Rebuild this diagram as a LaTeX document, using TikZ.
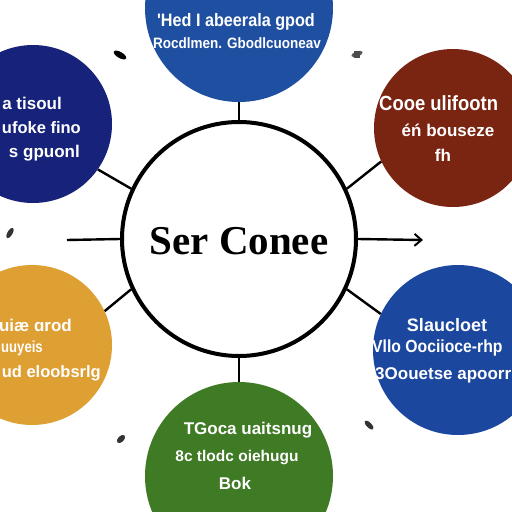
\documentclass[tikz,border=0pt]{standalone}
\usepackage{fontspec}
\setmainfont{Liberation Sans}
\newfontfamily\condf[FakeStretch=0.82]{Liberation Sans}
\newfontfamily\semif[FakeStretch=0.9]{Liberation Sans}
\newfontfamily\serifb{Liberation Serif}
\usetikzlibrary{arrows.meta}
\definecolor{topblue}{HTML}{1E4FA0}
\definecolor{navy}{HTML}{17237A}
\definecolor{brown}{HTML}{7A2412}
\definecolor{orange}{HTML}{DE9F33}
\definecolor{rblue}{HTML}{1C479E}
\definecolor{green}{HTML}{3F7A24}
\tikzset{
  bubble/.style={circle, inner sep=0pt, draw=none},
  lbl/.style={text=white, inner sep=0pt, font=\bfseries\fontsize{17}{19}\selectfont},
  link/.style={line width=2.4pt, black},
}
\begin{document}
\begin{tikzpicture}[x=1pt,y=-1pt]
\useasboundingbox (0,0) rectangle (512,512);
\clip (0,0) rectangle (512,512);
\fill[white] (0,0) rectangle (512,512);
% outer circles
\node[bubble, fill=topblue, minimum size=188pt] (top) at (239,8) {};
\node[bubble, fill=navy, minimum size=158pt] (nw) at (33,124) {};
\node[bubble, fill=brown, minimum size=158pt] (ne) at (453,128) {};
\node[bubble, fill=orange, minimum size=160pt] (sw) at (32,345) {};
\node[bubble, fill=rblue, minimum size=170pt] (se) at (458,350) {};
\node[bubble, fill=green, minimum size=188pt] (bot) at (239,476) {};
% center
\node[circle, draw, line width=4pt, fill=white, minimum size=234pt, inner sep=0pt] (c) at (239,239) {};
\node[inner sep=0pt, font=\serifb\bfseries\fontsize{41}{44}\selectfont] (ctext) at (239,241) {Ser Conee};
% connectors
\draw[link] (top.south) -- (c.north);
\draw[link] (bot.north) -- (c.south);
\draw[link] (nw.-35) -- (c.155);
\draw[link] (ne.205) -- (c.25);
\draw[link] (sw.25) -- (c.205);
\draw[link] (se.155) -- (c.-25);
\coordinate (lend) at (67,240);
\coordinate (rend) at (423,240);
\draw[link] (lend) -- (c.west);
\draw[link, -{Straight Barb[length=7pt,width=12pt,line width=2pt]}] (c.east) -- (rend);
% texts
\node[lbl, font=\semif\bfseries\fontsize{18}{20}\selectfont] (t1) at (236,22) {'Hed I abeerala gpod};
\node[lbl, font=\semif\bfseries\fontsize{15}{18}\selectfont] (t2) at (237,43) {Rocdlmen. Gbodlcuoneav};
\node[lbl, anchor=east] (n1) at (62,103) {a tisoul};
\node[lbl, anchor=east, font=\bfseries\fontsize{16.5}{19}\selectfont] (n2) at (81,128) {ufoke fino};
\node[lbl, anchor=east] (n3) at (80,153) {s gpuonl};
\node[lbl, anchor=west, font=\semif\bfseries\fontsize{20.5}{23}\selectfont] (b1) at (379,103) {Cooe ulifootn};
\node[lbl] (b2) at (448,130) {éń bouseze};
\node[lbl] (b3) at (443,155) {fh};
\node[lbl, anchor=east] (o1) at (72,325) {uiæ ɑrod};
\node[lbl, anchor=west, font=\condf\bfseries\fontsize{16}{18}\selectfont] (o2) at (1,348) {uuyeis};
\node[lbl, anchor=east, font=\bfseries\fontsize{16.5}{19}\selectfont] (o3) at (101,373) {ud eloobsrlg};
\node[lbl, font=\bfseries\fontsize{18}{20}\selectfont] (s1) at (447,325) {Slaucloet};
\node[lbl, anchor=west, font=\semif\bfseries\fontsize{17.5}{19}\selectfont] (s2) at (372,348) {Vllo Oociioce-rhp};
\node[lbl, anchor=west] (s3) at (375,375) {3Oouetse apoorr};
\node[lbl] (g1) at (248,430) {TGoca uaitsnug};
\node[lbl, font=\bfseries\fontsize{15.5}{18}\selectfont] (g2) at (237,458) {8c tlodc oiehugu};
\node[lbl] (g3) at (235,483) {Bok};
% small marks
\fill[black, rotate around={-30:(120,55)}] (120,55) ellipse (7pt and 3pt);
\fill[black!65, rotate around={20:(357,54)}] (357,54) ellipse (6pt and 2.5pt);
\fill[black!70] (354,51) rectangle (360,58);
\fill[black!80, rotate around={60:(10,233)}] (10,233) ellipse (6pt and 2.5pt);
\fill[black!80, rotate around={45:(121,439)}] (121,439) ellipse (5pt and 3pt);
\fill[black!80, rotate around={-45:(369,425)}] (369,425) ellipse (6pt and 2.5pt);
\end{tikzpicture}
\end{document}
